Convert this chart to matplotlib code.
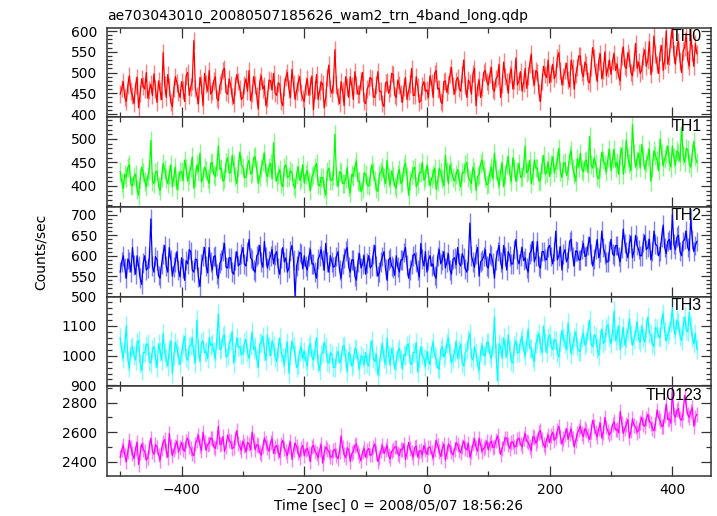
import numpy as np
import matplotlib
matplotlib.use("Agg")
import matplotlib.pyplot as plt
from matplotlib.ticker import MultipleLocator, FuncFormatter

plt.rcParams['font.family'] = ['DejaVu Sans']

# time bins (sec), 2.5 s spacing starting at -500
t_start, t_step = -500.0, 2.5

th0 = [448,462, 478,440, 430,470, 492,455, 445,425, 470,488, 415,450, 485,468, 460,500, 438,458,
       472,445, 497,460, 428,480, 455,435, 548,470, 440,495, 465,428, 418,462, 490,475, 452,440,
       478,458, 430,492, 500,445, 465,480, 577,462, 445,425, 488,470, 420,498, 472,455, 505,448,
       455,480, 490,438, 432,470, 478,505, 510,452, 448,485, 470,442, 425,468, 495,478, 462,435,
       440,470, 485,455, 505,432, 450,490, 470,445, 412,478, 492,460, 468,420, 438,482, 480,458,
       498,450, 445,475, 472,430, 420,465, 488,500, 460,440, 508,472, 435,455, 476,490, 452,438,
       430,468, 485,445, 468,492, 410,458, 495,435, 455,478, 472,415, 440,488, 518,462, 450,472,
       555,470, 442,425, 478,455, 420,490, 465,440, 490,468, 435,502, 470,448, 448,480, 500,430,
       425,460, 468,488, 485,442, 440,470, 502,455, 455,425, 418,475, 478,450, 462,498, 495,445,
       440,482, 470,450, 428,465, 488,435, 455,472, 510,445, 445,490, 465,428, 432,468, 478,455,
       458,440, 492,475, 440,498, 505,460, 462,430, 425,478, 480,452, 470,495, 512,468, 448,480,
       488,462, 455,495, 530,470, 440,482, 475,448, 498,510, 420,465, 482,440, 465,500, 505,478,
       470,495, 512,460, 455,485, 490,520, 440,472, 525,490, 478,450, 495,508, 460,482, 535,470,
       480,502, 455,475, 510,462, 492,520, 545,488, 470,505, 500,452, 430,478, 515,495, 488,530,
       475,498, 520,485, 495,535, 548,505, 470,490, 505,522, 482,465, 530,512, 460,495, 512,540,
       540,500, 490,525, 518,480, 475,512, 560,535, 502,478, 528,545, 485,505, 550,492, 510,530,
       495,528, 545,505, 520,490, 480,540, 562,515, 510,548, 535,500, 492,525, 570,510, 525,498,
       505,540, 555,515, 530,575, 495,522, 588,545, 520,498, 548,565, 505,530, 600,520, 538,580,
       610,545, 520,560, 575,528, 500,552, 560,595, 530,515, 590,548, 515,570, 545]

th1 = [430,408, 395,425, 418,440, 445,402, 400,420, 425,392, 380,415, 440,428, 410,398, 420,435,
       497,410, 405,428, 432,400, 390,418, 448,435, 415,405, 425,445, 398,420, 440,392, 412,430,
       430,412, 455,438, 410,425, 438,462, 395,418, 445,430, 470,408, 418,440, 432,415, 405,448,
       450,425, 420,442, 485,435, 438,410, 415,450, 460,428, 428,465, 445,420, 405,438, 472,445,
       440,418, 418,445, 455,425, 428,460, 462,435, 405,420, 438,452, 470,428, 420,440, 448,415,
       492,430, 410,425, 435,405, 398,440, 445,418, 420,432, 428,400, 395,425, 440,412, 418,445,
       405,425, 432,410, 390,420, 425,440, 448,402, 400,418, 418,395, 380,430, 438,412, 412,422,
       510,420, 398,430, 428,405, 405,415, 440,398, 385,425, 420,440, 452,410, 410,388, 395,428,
       425,402, 400,420, 445,430, 412,395, 388,425, 430,440, 418,405, 455,418, 402,432, 420,400,
       395,425, 435,405, 410,440, 448,420, 380,412, 422,435, 440,398, 405,428, 428,450, 412,418,
       445,422, 400,415, 425,438, 392,410, 438,428, 415,400, 465,430, 405,445, 430,418, 410,425,
       435,412, 398,428, 428,445, 450,418, 412,405, 440,430, 390,420, 425,448, 455,435, 418,402,
       405,428, 440,415, 470,435, 415,400, 432,448, 398,425, 445,462, 425,410, 460,438, 410,430,
       448,418, 420,440, 485,428, 432,455, 405,422, 455,438, 438,410, 412,445, 465,425, 428,452,
       420,445, 462,428, 440,455, 480,430, 418,448, 450,422, 432,465, 475,438, 425,410, 458,440,
       470,435, 430,452, 455,428, 505,445, 438,460, 448,420, 415,440, 472,455, 445,430, 460,478,
       432,458, 478,440, 450,425, 465,480, 425,448, 498,460, 448,432, 530,470, 440,455, 470,438,
       488,462, 435,450, 462,478, 410,440, 475,465, 455,432, 500,470, 442,458, 468,485, 452,440,
       485,460, 445,475, 470,452, 525,465, 450,480, 478,448, 440,470, 495,462, 450]

th2 = [560,585, 600,570, 545,592, 585,560, 620,578, 555,600, 575,545, 530,582, 600,565, 570,595,
       690,575, 560,598, 590,552, 545,580, 605,625, 575,560, 620,590, 550,572, 585,610, 565,548,
       595,570, 540,588, 580,615, 610,565, 560,592, 590,548, 525,580, 600,620, 575,558, 620,585,
       565,598, 600,555, 545,582, 590,610, 630,572, 570,595, 595,560, 555,588, 610,575, 580,605,
       620,580, 575,610, 640,595, 590,565, 560,600, 605,625, 585,572, 635,598, 570,588, 600,615,
       580,602, 610,570, 555,595, 620,585, 595,560, 570,612, 625,590, 500,575, 590,608, 605,568,
       600,575, 565,598, 615,580, 580,560, 545,592, 600,615, 590,565, 630,585, 560,600, 585,572,
       575,598, 610,565, 545,580, 595,612, 620,572, 560,590, 590,550, 540,585, 605,570, 580,600,
       555,582, 600,570, 575,605, 625,575, 550,560, 585,598, 610,568, 540,590, 595,575, 570,552,
       600,572, 560,590, 590,608, 620,578, 545,565, 580,600, 605,585, 565,548, 630,592, 575,610,
       560,590, 600,575, 580,552, 545,598, 615,580, 590,610, 570,585, 605,565, 555,592, 595,578,
       620,582, 575,605, 595,568, 560,590, 680,600, 585,572, 605,620, 550,585, 590,598, 615,575,
       570,605, 600,582, 545,590, 610,625, 585,568, 625,598, 565,610, 600,580, 580,615, 640,592,
       580,600, 620,588, 595,570, 560,605, 612,635, 585,598, 635,575, 570,610, 610,592, 590,620,
       625,598, 580,610, 660,590, 600,622, 565,605, 615,585, 595,635, 640,598, 575,612, 610,590,
       590,615, 630,598, 600,625, 645,605, 575,592, 615,640, 595,608, 660,620, 605,585, 585,612,
       640,605, 600,625, 625,598, 585,618, 665,630, 610,595, 630,648, 595,612, 650,625, 615,600,
       600,632, 650,615, 620,640, 590,610, 660,628, 625,600, 610,645, 675,620, 605,635, 640,615,
       700,628, 615,645, 650,610, 600,635, 640,660, 620,612, 690,640, 610,625, 635]

th3 = [1060,1015, 990,1040, 1100,985, 960,1025, 1030,1000, 985,1045, 1050,975, 950,1010, 1010,1035, 1040,980,
       975,1020, 1030,995, 960,1040, 1015,985, 1075,1010, 990,965, 1020,1050, 940,1000, 1045,1025, 1000,970,
       1010,1040, 1065,995, 985,1030, 1035,1060, 1005,975, 1120,1025, 980,1045, 1050,1010, 1015,990, 1060,1035,
       1040,1015, 990,1055, 1140,1020, 1025,1065, 1070,995, 1000,1040, 1050,1080, 975,1010, 1060,1030, 1030,1005,
       1005,1045, 1055,1010, 990,1035, 1080,1020, 1030,990, 960,1040, 1045,1065, 1015,985, 1070,1030, 1000,1050,
       1035,995, 980,1025, 1060,1010, 995,970, 1020,1045, 940,1000, 1050,1030, 1005,960, 970,1015, 1030,990,
       1015,985, 965,1030, 1040,995, 985,1020, 1060,975, 950,1005, 1010,1045, 1030,980, 975,1010, 1005,960,
       960,1000, 1015,975, 985,1030, 1035,990, 945,1010, 1000,965, 975,1025, 1020,985, 955,1000, 995,970,
       1010,975, 965,1020, 1050,990, 980,1005, 935,965, 1015,1040, 990,970, 1060,1000, 970,1025, 1000,955,
       980,1015, 1025,990, 955,1005, 1000,1035, 1040,975, 970,1010, 1010,1045, 945,990, 1030,1000, 990,965,
       1015,985, 970,1025, 1045,1000, 990,960, 955,1020, 1030,995, 1005,1040, 1060,1010, 975,990, 1010,1050,
       990,1020, 1040,975, 965,1010, 1020,1055, 1075,995, 985,1030, 1010,970, 950,1015, 1035,1000, 1000,1045,
       1045,1005, 990,1030, 1130,1010, 915,1040, 1030,990, 1060,1025, 995,1070, 1020,980, 975,1035, 1050,1010,
       1010,1050, 1065,1020, 1000,1045, 1090,1025, 1025,995, 980,1040, 1055,1075, 1035,1010, 1100,1045, 1010,1060,
       1070,1030, 1020,1055, 1050,1010, 995,1045, 1085,1060, 1040,1020, 1110,1050, 1005,1035, 1060,1080, 1030,1015,
       1015,1060, 1075,1035, 1045,1085, 1120,1040, 1030,1070, 1065,1025, 1000,1055, 1090,1040, 1050,1095, 1105,1060,
       1040,1080, 1150,1050, 1070,1100, 1020,1060, 1095,1035, 1060,1085, 1125,1070, 1035,1055, 1080,1115, 1055,1045,
       1100,1060, 1045,1090, 1130,1075, 1070,1040, 1030,1095, 1090,1065, 1060,1120, 1140,1080, 1050,1070, 1085,1110,
       1160,1090, 1070,1120, 1110,1065, 1050,1100, 1130,1085, 1080,1145, 1100,1060, 1040,1075, 1020]

th0123 = [2430,2480, 2510,2445, 2400,2470, 2545,2495, 2455,2420, 2490,2530, 2380,2460, 2520,2485, 2470,2410, 2425,2500,
          2560,2470, 2450,2515, 2500,2445, 2410,2490, 2530,2550, 2475,2430, 2590,2505, 2440,2480, 2505,2540, 2465,2495,
          2530,2485, 2470,2540, 2560,2505, 2490,2455, 2440,2520, 2545,2580, 2510,2475, 2600,2530, 2480,2515, 2525,2560,
          2555,2500, 2490,2535, 2640,2515, 2520,2570, 2470,2505, 2580,2545, 2535,2490, 2495,2560, 2610,2525, 2500,2475,
          2540,2510, 2465,2530, 2520,2480, 2600,2545, 2480,2515, 2510,2460, 2445,2500, 2560,2530, 2495,2470, 2530,2555,
          2455,2500, 2510,2470, 2430,2520, 2545,2490, 2470,2440, 2500,2535, 2415,2480, 2525,2505, 2460,2430, 2490,2510,
          2440,2480, 2490,2455, 2400,2500, 2510,2470, 2455,2425, 2480,2515, 2390,2460, 2500,2485, 2470,2435, 2430,2475,
          2485,2440, 2420,2470, 2575,2495, 2450,2425, 2495,2480, 2400,2455, 2470,2510, 2520,2465, 2440,2405, 2465,2490,
          2430,2475, 2490,2445, 2445,2500, 2520,2460, 2400,2430, 2475,2510, 2455,2480, 2510,2440, 2420,2470, 2480,2500,
          2500,2455, 2440,2485, 2480,2520, 2415,2465, 2530,2490, 2460,2430, 2495,2505, 2430,2470, 2475,2445, 2510,2480,
          2450,2495, 2500,2460, 2425,2480, 2545,2510, 2470,2435, 2490,2520, 2410,2465, 2520,2500, 2465,2445, 2485,2530,
          2515,2475, 2460,2505, 2540,2490, 2480,2525, 2430,2465, 2520,2555, 2495,2470, 2560,2510, 2470,2490, 2505,2540,
          2480,2525, 2540,2495, 2500,2545, 2575,2510, 2450,2490, 2525,2560, 2560,2515, 2490,2530, 2535,2500, 2505,2550,
          2560,2520, 2500,2555, 2590,2540, 2530,2505, 2475,2570, 2565,2525, 2545,2600, 2610,2550, 2515,2495, 2550,2580,
          2530,2575, 2600,2545, 2560,2610, 2640,2570, 2520,2555, 2580,2625, 2550,2590, 2620,2560, 2500,2545, 2590,2615,
          2640,2590, 2570,2625, 2610,2580, 2550,2605, 2680,2640, 2595,2570, 2625,2660, 2560,2600, 2700,2635, 2605,2580,
          2600,2650, 2670,2615, 2620,2595, 2740,2660, 2590,2625, 2650,2685, 2560,2610, 2690,2645, 2635,2600, 2610,2665,
          2700,2650, 2640,2690, 2720,2675, 2660,2625, 2610,2655, 2750,2700, 2680,2640, 2640,2710, 2790,2685, 2690,2660,
          2880,2720, 2700,2750, 2760,2690, 2680,2735, 2850,2780, 2720,2700, 2740,2765, 2640,2700, 2720]

series = [th0, th1, th2, th3, th0123]
labels = ["TH0", "TH1", "TH2", "TH3", "TH0123"]
colors = ["#ff0000", "#00ff00", "#0000ff", "#00ffff", "#ff00ff"]
errors = [21, 20, 24, 32, 50]
ylims = [(392, 608), (355, 546), (500, 719), (897, 1198), (2303, 2910)]
ymajor = [50, 50, 50, 100, 200]
yminor = [10, 10, 10, 20, 100]

title = "ae703043010_20080507185626_wam2_trn_4band_long.qdp"
xlabel = "Time [sec] 0 = 2008/05/07 18:56:26"
ylabel = "Counts/sec"

fig = plt.figure(figsize=(7.17, 5.16), dpi=100)
W, H = 717, 516
left, right, top, bottom = 106.7, 711, 27.7, 476
axes = fig.subplots(5, 1, sharex=True)
fig.subplots_adjust(left=left / W, right=right / W, top=1 - top / H,
                    bottom=1 - bottom / H, hspace=0)

edge = "#333333"
for ax, y, lab, c, e, yl, ma, mi in zip(axes, series, labels, colors, errors,
                                          ylims, ymajor, yminor):
    y = np.asarray(y, dtype=float)
    t = t_start + t_step * np.arange(len(y))
    ax.errorbar(t, y, yerr=e, fmt='none', ecolor=c, alpha=0.5,
                elinewidth=1.0, zorder=1)
    ax.plot(t, y, color=c, lw=0.9, zorder=2)
    ax.set_ylim(*yl)
    ax.set_xlim(-522, 463)
    ax.yaxis.set_major_locator(MultipleLocator(ma))
    ax.yaxis.set_minor_locator(MultipleLocator(mi))
    ax.xaxis.set_major_locator(MultipleLocator(200))
    ax.xaxis.set_minor_locator(MultipleLocator(100))
    ax.tick_params(which='both', direction='in', top=True, right=True,
                   color=edge, width=0.9, labelsize=10)
    ax.tick_params(axis='y', pad=7)
    ax.tick_params(axis='x', pad=5)
    ax.tick_params(which='major', length=7)
    ax.tick_params(which='minor', length=3.5)
    for s in ax.spines.values():
        s.set_color(edge)
        s.set_linewidth(1.1)
    ax.text(0.985, 0.985, lab, transform=ax.transAxes, ha='right', va='top',
            fontsize=11.5, family='Liberation Sans', zorder=5)

for ax in axes[:-1]:
    ax.tick_params(labelbottom=False)

axes[-1].xaxis.set_major_formatter(
    FuncFormatter(lambda v, p: ("%d" % v).replace("-", "\u2212")))
for ax in axes:
    ax.yaxis.set_major_formatter(FuncFormatter(lambda v, p: "%d" % v))

fig.text(left / W, 1 - 16 / H, title, ha='left', va='center', fontsize=10)
fig.text(398 / W, 1 - 506 / H, xlabel, ha='center', va='center', fontsize=9.8)
fig.text(41 / W, 1 - 252 / H, ylabel, ha='center', va='center',
         rotation=90, fontsize=10)

fig.savefig("out.png", dpi=100)
